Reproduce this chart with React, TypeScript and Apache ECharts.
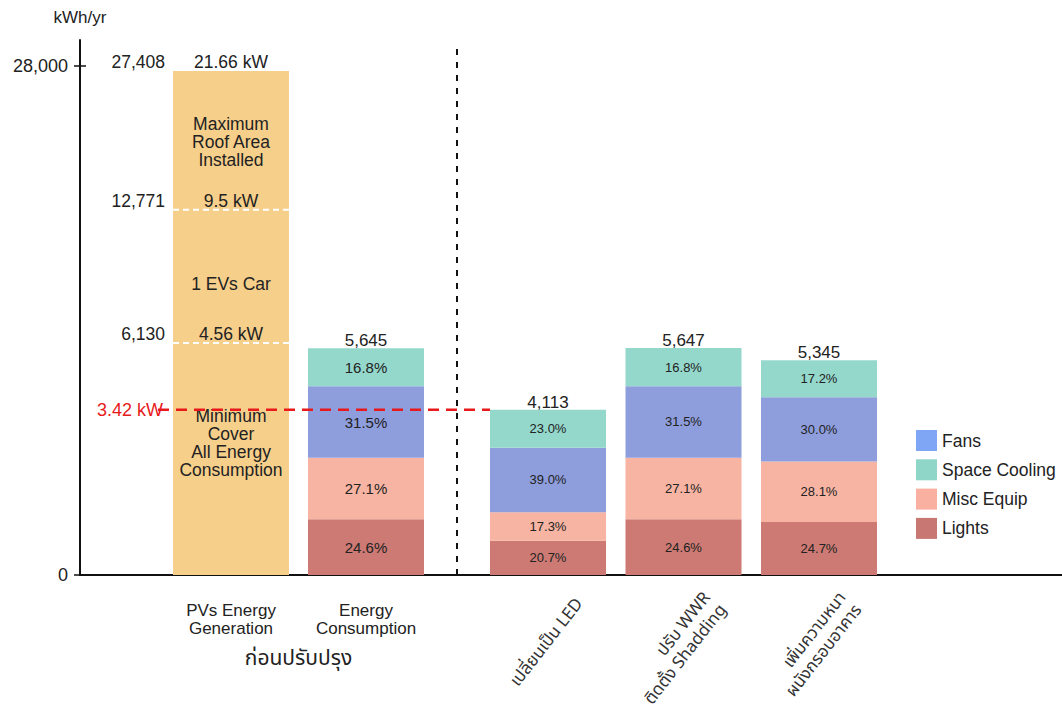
import React, { useEffect, useRef } from 'react';
import * as echarts from 'echarts';

// ---------------- data ----------------
const yAxisName = 'kWh/yr';
const yAxisTickValues = [0, 28000];

const beforeCategories = ['PVs Energy\nGeneration', 'Energy\nConsumption'];
const beforeGroupLabel = 'ก่อนปรับปรุง';
const afterCategories = [
  'เปลี่ยนเป็น LED',
  'ปรับ WWR\nติดตั้ง Shadding',
  'เพิ่มความหนา\nผนังกรอบอาคาร',
];

// PV generation levels (kWh/yr) and installed capacity
const pvLevels = [27408, 12771, 6130];
const pvLevelKw = ['21.66 kW', '9.5 kW', '4.56 kW'];
const pvSegmentNotes = ['Maximum\nRoof Area\nInstalled', '1 EVs Car', 'Minimum\nCover\nAll Energy\nConsumption'];

// consumption: [Energy Consumption (before), LED, WWR + Shadding, wall thickness]
const consumptionTotals = [5645, 4113, 5647, 5345];
const lightsPct = [24.6, 20.7, 24.6, 24.7];
const miscEquipPct = [27.1, 17.3, 27.1, 28.1];
const fansPct = [31.5, 39.0, 31.5, 30.0];
const spaceCoolingPct = [16.8, 23.0, 16.8, 17.2];

const endUseNames = ['Lights', 'Misc Equip', 'Fans', 'Space Cooling'];
const endUsePct = [lightsPct, miscEquipPct, fansPct, spaceCoolingPct];
const legendOrder = ['Fans', 'Space Cooling', 'Misc Equip', 'Lights'];

// minimum PV line
const minCoverKw = '3.42 kW';
const minCoverLevel = 4113;

// ---------------- styles ----------------
const FONT = "'Liberation Sans', Arial, 'Noto Sans Thai', 'Noto Sans', sans-serif";
const THAI_FONT = "Tahoma, 'Noto Sans Thai', 'Liberation Sans', sans-serif";
const TXT = '#222';
const barColors: Record<string, string> = {
  Lights: '#cc7a73',
  'Misc Equip': '#f8b4a2',
  Fans: '#8e9ddc',
  'Space Cooling': '#94d8cc',
};
const legendColors: Record<string, string> = {
  Lights: '#c97772',
  'Misc Equip': '#f9b0a0',
  Fans: '#7fa6f5',
  'Space Cooling': '#8fd5c8',
};
const PV_COLOR = '#f6cf8b';
const BAR_W = 116;
const GRID_TOP = 40;
const GRID_H = 535;

const fmt = (v: number) => v.toLocaleString('en-US');

export default function App() {
  const ref = useRef<HTMLDivElement>(null);

  useEffect(() => {
    if (!ref.current) return;
    const chart = echarts.init(ref.current, undefined, { renderer: 'svg' });

    const series: any[] = [];
    // PV generation bar (grid 1, log axis)
    series.push({
      name: 'PV',
      type: 'bar',
      xAxisIndex: 1,
      yAxisIndex: 1,
      barWidth: BAR_W,
      barGap: '-100%',
      clip: true,
      itemStyle: { color: PV_COLOR },
      data: [pvLevels[0], '-'],
      z: 2,
    });
    // before: consumption stack
    endUseNames.forEach((name, k) => {
      const pct = endUsePct[k];
      series.push({
        name,
        type: 'bar',
        xAxisIndex: 1,
        yAxisIndex: 2,
        stack: 'before',
        barWidth: BAR_W,
        barGap: '-100%',
        itemStyle: { color: barColors[name] },
        label: {
          show: true,
          position: 'inside',
          fontSize: 15,
          fontFamily: FONT,
          color: TXT,
          formatter: () => pct[0].toFixed(1) + '%',
        },
        data: ['-', (consumptionTotals[0] * pct[0]) / 100],
      });
    });
    series.push({
      name: 'totalBefore',
      type: 'bar',
      xAxisIndex: 1,
      yAxisIndex: 2,
      barWidth: BAR_W,
      barGap: '-100%',
      itemStyle: { color: 'rgba(0,0,0,0)' },
      label: {
        show: true,
        position: 'top',
        distance: -1,
        fontSize: 17,
        fontFamily: FONT,
        color: TXT,
        formatter: (p: any) => fmt(p.value),
      },
      data: ['-', consumptionTotals[0]],
      z: 1,
    });
    // after: three measures
    endUseNames.forEach((name, k) => {
      const pct = endUsePct[k];
      series.push({
        name,
        type: 'bar',
        xAxisIndex: 2,
        yAxisIndex: 3,
        stack: 'after',
        barWidth: BAR_W,
        barGap: '-100%',
        itemStyle: { color: barColors[name] },
        label: {
          show: true,
          position: 'inside',
          fontSize: 13,
          fontFamily: FONT,
          color: TXT,
          formatter: (p: any) => pct[p.dataIndex + 1].toFixed(1) + '%',
        },
        data: afterCategories.map((_, i) => (consumptionTotals[i + 1] * pct[i + 1]) / 100),
      });
    });
    series.push({
      name: 'totalAfter',
      type: 'bar',
      xAxisIndex: 2,
      yAxisIndex: 3,
      barWidth: BAR_W,
      barGap: '-100%',
      itemStyle: { color: 'rgba(0,0,0,0)' },
      label: {
        show: true,
        position: 'top',
        distance: -1,
        fontSize: 17,
        fontFamily: FONT,
        color: TXT,
        formatter: (p: any) => fmt(p.value),
      },
      data: consumptionTotals.slice(1),
      z: 1,
    });

    const consMax = 13314;
    const gridBase = { top: GRID_TOP, height: GRID_H, containLabel: false, outerBoundsMode: 'none' };

    const option: any = {
      animation: false,
      backgroundColor: '#fff',
      textStyle: { fontFamily: FONT },
      grid: [
        { ...gridBase, left: 80, width: 982 },
        { ...gridBase, left: 163.5, width: 270 },
        { ...gridBase, left: 480.25, width: 406.5 },
      ],
      legend: {
        orient: 'vertical',
        left: 911,
        top: 425,
        itemWidth: 21,
        itemHeight: 21,
        itemGap: 8.3,
        icon: 'rect',
        textStyle: { fontSize: 17.5, color: TXT, fontFamily: FONT },
        data: legendOrder.map((n) => ({ name: n, itemStyle: { color: legendColors[n] } })),
      },
      xAxis: [
        {
          gridIndex: 0,
          type: 'category',
          data: [''],
          axisLine: { show: true, lineStyle: { color: '#111', width: 2 } },
          axisTick: { show: false },
          axisLabel: { show: false },
        },
        {
          gridIndex: 1,
          type: 'category',
          data: beforeCategories,
          axisLine: { show: false },
          axisTick: { show: false },
          axisLabel: {
            fontSize: 17,
            lineHeight: 18,
            color: TXT,
            fontFamily: FONT,
            margin: 26,
            interval: 0,
          },
        },
        {
          gridIndex: 2,
          type: 'category',
          data: afterCategories,
          axisLine: { show: false },
          axisTick: { show: false },
          axisLabel: {
            rotate: 52,
            fontSize: 17,
            lineHeight: 20,
            color: '#333',
            fontFamily: THAI_FONT,
            margin: 1,
            interval: 0,
            // blank leading lines push the rotated label away from the tick
            formatter: (v: string) => '\n\n\n\n' + v,
          },
        },
      ],
      yAxis: [
        {
          gridIndex: 0,
          type: 'value',
          min: 0,
          max: (28000 * GRID_H) / 509,
          name: yAxisName,
          nameLocation: 'end',
          nameGap: 14,
          nameTextStyle: { fontSize: 17, color: TXT, fontFamily: FONT, align: 'center' },
          axisLine: { show: true, lineStyle: { color: '#111', width: 2 } },
          axisTick: { show: true, length: 6, lineStyle: { color: '#111', width: 1.5 }, customValues: yAxisTickValues },
          axisLabel: {
            fontSize: 18,
            color: TXT,
            fontFamily: FONT,
            margin: 12,
            customValues: yAxisTickValues,
            formatter: (v: number) => fmt(v),
          },
          splitLine: { show: false },
        },
        { gridIndex: 1, type: 'log', min: 1709, max: 32510, show: false },
        { gridIndex: 1, type: 'value', min: 0, max: consMax, show: false },
        { gridIndex: 2, type: 'value', min: 0, max: consMax, show: false },
      ],
      series,
    };

    chart.setOption(option);

    // ---------- annotations positioned through the axes ----------
    const px = (finder: any, v: any) => chart.convertToPixel(finder, v) as unknown as number;
    const g: any[] = [];
    const Z = 100;
    const text = (t: string, x: number, y: number, o: any = {}) => ({
      type: 'text',
      x,
      y,
      z: Z,
      style: {
        text: t,
        fill: o.fill || TXT,
        fontSize: o.fontSize || 17.5,
        fontFamily: o.fontFamily || FONT,
        align: o.align || 'center',
        verticalAlign: 'middle',
        lineHeight: o.lineHeight || 18,
      },
    });

    const axisX = 80;
    const yBase = px({ yAxisIndex: 0 }, 0);
    const y28 = px({ yAxisIndex: 0 }, yAxisTickValues[1]);
    // crossing tick at 28,000
    g.push({ type: 'line', z: Z, shape: { x1: axisX, y1: y28, x2: axisX + 6, y2: y28 }, style: { stroke: '#111', lineWidth: 1.5 } });

    const pvCx = px({ xAxisIndex: 1 }, beforeCategories[0]);
    const consCx = px({ xAxisIndex: 1 }, beforeCategories[1]);
    const ledCx = px({ xAxisIndex: 2 }, afterCategories[0]);
    const half = BAR_W / 2;
    const lv = pvLevels.map((v) => px({ yAxisIndex: 1 }, v));

    pvLevels.forEach((v, i) => {
      g.push(text(fmt(v), pvCx - half - 8, lv[i] - 9, { align: 'right' }));
      g.push(text(pvLevelKw[i], pvCx, lv[i] - 9));
      if (i > 0) {
        g.push({
          type: 'line',
          z: Z,
          shape: { x1: pvCx - half, y1: lv[i], x2: pvCx + half, y2: lv[i] },
          style: { stroke: '#fff', lineWidth: 2, lineDash: [6, 4] },
        });
      }
    });
    g.push(text(pvSegmentNotes[0], pvCx, (lv[0] + lv[1]) / 2 + 2));
    g.push(text(pvSegmentNotes[1], pvCx, (lv[1] + lv[2]) / 2 + 8));
    g.push(text(pvSegmentNotes[2], pvCx, lv[2] + (yBase - lv[2]) * 0.43));

    // red minimum line
    const yRed = px({ yAxisIndex: 3 }, minCoverLevel);
    g.push({
      type: 'line',
      z: Z,
      shape: { x1: 158, y1: yRed, x2: ledCx - half, y2: yRed },
      style: { stroke: '#e8191b', lineWidth: 2.5, lineDash: [11, 7] },
    });
    g.push(text(minCoverKw, 163, yRed, { align: 'right', fill: '#e8191b', fontSize: 18 }));

    // vertical divider
    const xDiv = (consCx + half + ledCx - half) / 2;
    g.push({
      type: 'line',
      z: Z,
      shape: { x1: xDiv, y1: 49, x2: xDiv, y2: yBase },
      style: { stroke: '#111', lineWidth: 2, lineDash: [6, 7] },
    });

    // group label
    g.push(text(beforeGroupLabel, (pvCx + consCx) / 2, 658, { fontSize: 21, fontFamily: THAI_FONT }));

    chart.setOption({ graphic: g });

    return () => chart.dispose();
  }, []);

  return (
    <div
      ref={ref}
      style={{ position: 'fixed', left: 0, top: 0, width: 1062, height: 717, background: '#fff' }}
    />
  );
}
